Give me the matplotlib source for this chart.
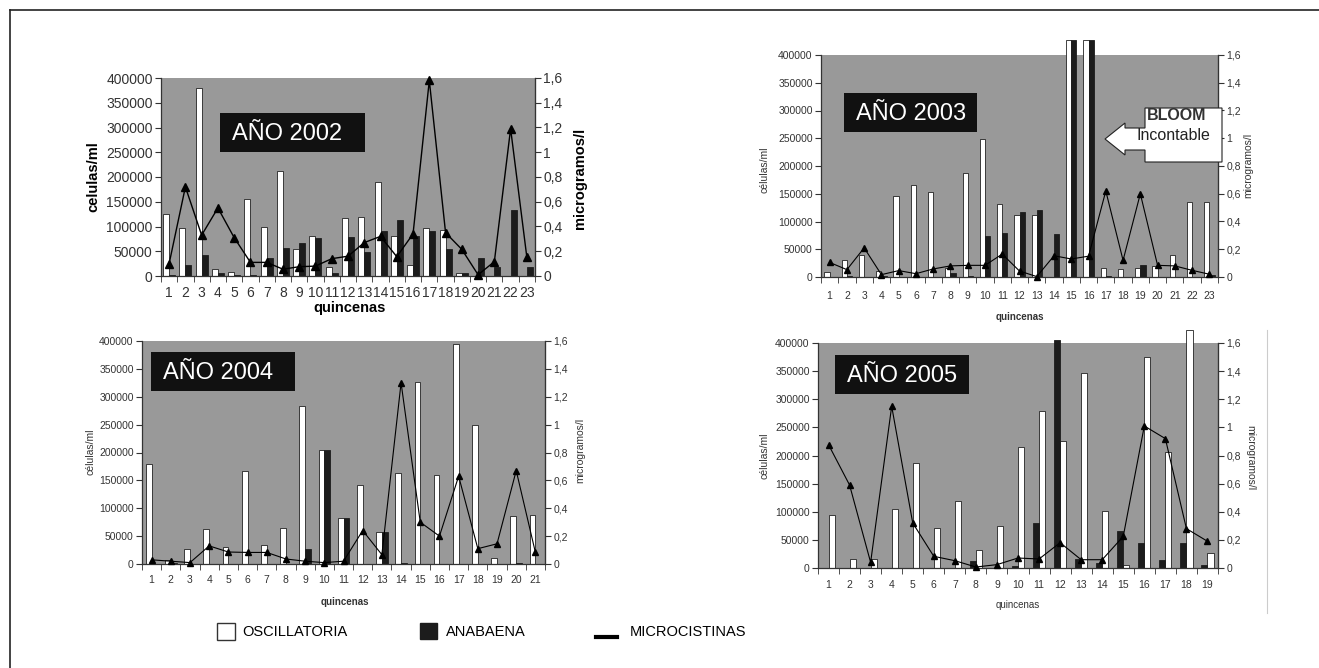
import numpy as np
import matplotlib
matplotlib.use("Agg")
import matplotlib.pyplot as plt
from matplotlib.patches import Rectangle, Polygon
from matplotlib.lines import Line2D

plt.rcParams['font.family'] = ['Liberation Sans', 'DejaVu Sans']

W, H = 1319, 668

# ---- datos ----
osc_2002 = [125000, 97000, 380000, 13500, 8000, 156000, 100000, 213000, 55000, 81000, 18000, 118000,
            120000, 189000, 81000, 23000, 97000, 92000, 7000, 1000, 0, 0, 0]
ana_2002 = [2000, 23000, 42000, 6500, 3000, 2000, 37000, 56000, 67000, 77000, 7000, 79000,
            48000, 90000, 113000, 80000, 90000, 54000, 7000, 37000, 18500, 134000, 18500]
mic_2002 = [0.10, 0.72, 0.33, 0.55, 0.31, 0.11, 0.11, 0.055, 0.075, 0.08, 0.14, 0.16,
            0.27, 0.32, 0.156, 0.34, 1.58, 0.35, 0.215, 0.01, 0.116, 1.19, 0.15]

osc_2003 = [8400, 30000, 39000, 10000, 146000, 165500, 154000, 17000, 187000, 249000, 132000, 112000,
            112000, 0, 427000, 427000, 15600, 14400, 16000, 19000, 40000, 135000, 135000]
ana_2003 = [0, 1000, 0, 1000, 0, 0, 0, 7000, 1000, 73000, 80000, 118000,
            120000, 77000, 427000, 427000, 1000, 0, 22000, 0, 0, 0, 3000]
mic_2003 = [0.105, 0.053, 0.21, 0.017, 0.046, 0.024, 0.058, 0.08, 0.084, 0.084, 0.165, 0.043,
            0.003, 0.153, 0.13, 0.15, 0.62, 0.12, 0.60, 0.084, 0.08, 0.048, 0.02]

osc_2004 = [179000, 8000, 27000, 62600, 30000, 166000, 34000, 64400, 284000, 204000, 82000,
            141000, 56600, 164000, 327000, 159000, 395000, 250000, 11000, 86000, 88000]
ana_2004 = [0, 2000, 0, 0, 0, 0, 0, 0, 27000, 204000, 82000,
            0, 56600, 1000, 0, 0, 0, 0, 0, 1000, 0]
mic_2004 = [0.03, 0.02, 0.01, 0.13, 0.086, 0.083, 0.083, 0.036, 0.02, 0.01, 0.02,
            0.24, 0.067, 1.30, 0.30, 0.20, 0.63, 0.11, 0.145, 0.67, 0.083]

osc_2005 = [93600, 16000, 16000, 105500, 186700, 71100, 119700, 32600, 74000, 214500,
            278500, 226000, 346700, 100700, 6000, 375000, 207000, 423000, 26700]
ana_2005 = [0, 0, 0, 0, 0, 0, 0, 13000, 0, 4000,
            80000, 405000, 16000, 9000, 66400, 44400, 15000, 44000, 6000]
mic_2005 = [0.877, 0.59, 0.04, 1.15, 0.32, 0.083, 0.052, 0.007, 0.024, 0.071,
            0.064, 0.18, 0.059, 0.059, 0.225, 1.01, 0.92, 0.28, 0.19]

GRAY = "#999999"
DARK = "#1c1c1c"


def fx(x):
    return x / W


def fy(y):
    return 1 - y / H


def fmt_mic(v):
    s = f"{v:.1f}".rstrip("0").rstrip(".")
    return s.replace(".", ",")


def panel(box, osc, ana, mic, white_first, fs, xpad, bw, ms, lw):
    l, t, r, b = box
    ax = fig.add_axes([fx(l), fy(b), fx(r) - fx(l), fy(t) - fy(b)])
    n = len(osc)
    x = np.arange(1, n + 1)
    s = -1 if white_first else 1
    ax.bar(x + s * bw / 2, osc, bw, color="white", edgecolor="#222222", lw=0.6, clip_on=False, zorder=2)
    ax.bar(x - s * bw / 2, ana, bw, color=DARK, edgecolor=DARK, lw=0.6, clip_on=False, zorder=2)
    ax.set_xlim(0.5, n + 0.5)
    ax.set_ylim(0, 400000)
    ax.set_facecolor(GRAY)
    ax.set_yticks(np.arange(0, 400001, 50000))
    ax.set_yticklabels([str(v) for v in range(0, 400001, 50000)], fontsize=fs)
    ax.set_xticks(x)
    ax.set_xticklabels([str(i) for i in x], fontsize=fs)
    ax.set_xticks(np.arange(0.5, n + 1, 1), minor=True)
    ax.tick_params(axis="x", which="major", length=0, pad=xpad)
    ax.tick_params(axis="x", which="minor", length=4, direction="out", color="#333333")
    ax.tick_params(axis="y", length=4, direction="out", pad=2, color="#333333", colors="#333333")
    ax.tick_params(axis="x", colors="#333333")
    ax.spines["top"].set_visible(False)
    for sp in ["left", "bottom", "right"]:
        ax.spines[sp].set_color("#333333")
        ax.spines[sp].set_linewidth(0.9)

    ax2 = ax.twinx()
    ax2.plot(x, mic, color="black", lw=lw, marker="^", ms=ms, clip_on=False, zorder=3)
    ax2.set_ylim(0, 1.6)
    yt = np.arange(0, 1.61, 0.2)
    ax2.set_yticks(yt)
    ax2.set_yticklabels([fmt_mic(v) for v in yt], fontsize=fs, color="#333333")
    ax2.tick_params(axis="y", length=4, direction="out", pad=2, color="#333333")
    ax2.spines["top"].set_visible(False)
    ax2.spines["left"].set_visible(False)
    ax2.spines["bottom"].set_visible(False)
    ax2.spines["right"].set_color("#333333")
    return ax


def year_box(x0, y0, x1, y1, text):
    fig.add_artist(Rectangle((fx(x0), fy(y1)), fx(x1) - fx(x0), fy(y0) - fy(y1),
                             transform=fig.transFigure, facecolor="#111111", edgecolor="none", zorder=5))
    fig.text(fx(x0 + 12), fy((y0 + y1) / 2 + 1), text, color="white", fontsize=17,
             ha="left", va="center", zorder=6)


fig = plt.figure(figsize=(W / 100, H / 100), dpi=100)

panel((161, 78, 535, 276), osc_2002, ana_2002, mic_2002, True, 10, 7, 0.37, 6, 1.0)
panel((821, 55, 1218, 277), osc_2003, ana_2003, mic_2003, True, 7.5, 10, 0.3, 4, 0.8)
panel((142, 341, 545, 564), osc_2004, ana_2004, mic_2004, True, 7.5, 8, 0.3, 4, 0.8)
panel((818, 343, 1218, 568), osc_2005, ana_2005, mic_2005, False, 7.5, 8.5, 0.29, 4, 0.8)

# titulos de ejes
fig.text(fx(93), fy(177), "celulas/ml", rotation=90, fontsize=10.5, weight="bold", ha="center", va="center")
fig.text(fx(580), fy(178), "microgramos/l", rotation=90, fontsize=10.5, weight="bold", ha="center", va="center")
fig.text(fx(350), fy(308), "quincenas", fontsize=10.5, weight="bold", ha="center", va="center")

fig.text(fx(765), fy(170), "células/ml", rotation=90, fontsize=7.5, ha="center", va="center", color="#333333")
fig.text(fx(1248), fy(165), "microgramos/l", rotation=90, fontsize=7.5, ha="center", va="center", color="#333333")
fig.text(fx(1020), fy(317), "quincenas", fontsize=7, weight="bold", ha="center", va="center", color="#333333")

fig.text(fx(90), fy(452), "células/ml", rotation=90, fontsize=7.5, ha="center", va="center", color="#333333")
fig.text(fx(580), fy(450), "microgramos/l", rotation=90, fontsize=7.5, ha="center", va="center", color="#333333")
fig.text(fx(345), fy(602), "quincenas", fontsize=7, weight="bold", ha="center", va="center", color="#333333")

fig.text(fx(765), fy(456), "células/ml", rotation=90, fontsize=7.5, ha="center", va="center", color="#333333")
fig.text(fx(1250), fy(458), "microgramos/l", rotation=270, fontsize=7.5, ha="center", va="center", color="#333333")
fig.text(fx(1018), fy(605), "quincenas", fontsize=7, ha="center", va="center", color="#333333")

# recuadros de año
year_box(220, 113, 365, 152, "AÑO 2002")
year_box(844, 93, 977, 132, "AÑO 2003")
year_box(151, 352, 295, 391, "AÑO 2004")
year_box(835, 355, 969, 394, "AÑO 2005")

# flecha BLOOM
pts = [(1105, 139), (1125, 123), (1125, 128), (1145, 128), (1145, 108), (1222, 108),
       (1222, 162), (1145, 162), (1145, 150), (1125, 150), (1125, 155)]
fig.add_artist(Polygon([(fx(a), fy(c)) for a, c in pts], closed=True, transform=fig.transFigure,
                       facecolor="white", edgecolor="#222222", lw=0.8, zorder=5))
fig.text(fx(1147), fy(116), "BLOOM", fontsize=11.5, weight="bold", ha="left", va="center", zorder=6,
         color="#333333")
fig.text(fx(1136), fy(135), "Incontable", fontsize=11.5, ha="left", va="center", zorder=6, color="#222222")

# marco
fig.add_artist(Line2D([fx(10), fx(10)], [fy(10), fy(668)], transform=fig.transFigure, color="#222222", lw=1.2))
fig.add_artist(Line2D([fx(10), fx(1319)], [fy(10), fy(10)], transform=fig.transFigure, color="#222222", lw=1.2))
fig.add_artist(Line2D([fx(1267), fx(1267)], [fy(330), fy(613)], transform=fig.transFigure, color="#cccccc", lw=0.8))

# leyenda
fig.add_artist(Rectangle((fx(217), fy(640)), fx(235) - fx(217), fy(623) - fy(640), transform=fig.transFigure,
                         facecolor="white", edgecolor="#333333", lw=1.0))
fig.text(fx(242), fy(632), "OSCILLATORIA", fontsize=10.5, ha="left", va="center")
fig.add_artist(Rectangle((fx(420), fy(639)), fx(437) - fx(420), fy(623) - fy(639), transform=fig.transFigure,
                         facecolor=DARK, edgecolor=DARK, lw=1.0))
fig.text(fx(446), fy(632), "ANABAENA", fontsize=10.5, ha="left", va="center")
fig.add_artist(Line2D([fx(596), fx(617)], [fy(637), fy(637)], transform=fig.transFigure, color="black", lw=3))
fig.text(fx(630), fy(632), "MICROCISTINAS", fontsize=10.5, ha="left", va="center")

fig.savefig("out.png", dpi=100)
